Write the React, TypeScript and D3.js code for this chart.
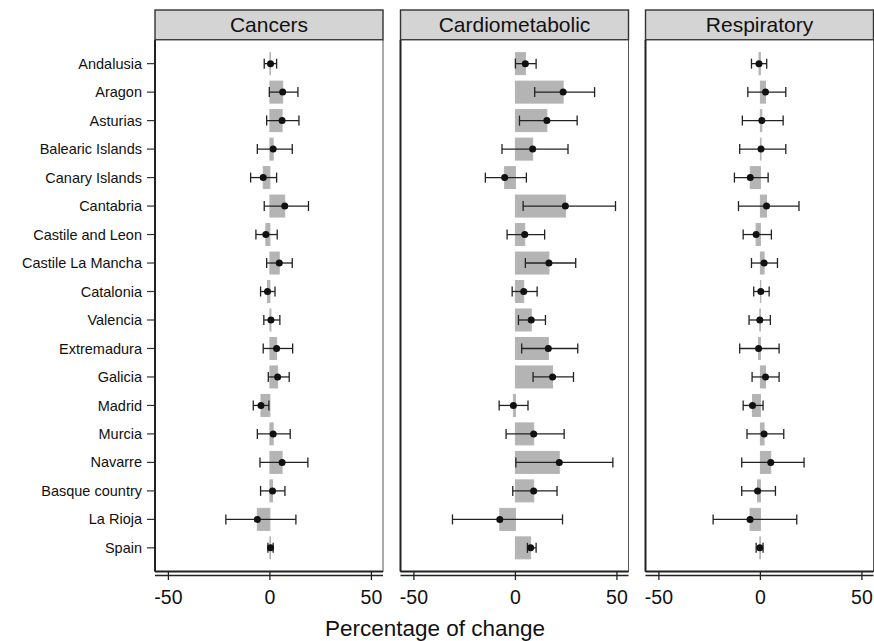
import React, { useEffect, useRef } from "react";
import * as d3 from "d3";

const regions = [
  "Andalusia",
  "Aragon",
  "Asturias",
  "Balearic Islands",
  "Canary Islands",
  "Cantabria",
  "Castile and Leon",
  "Castile La Mancha",
  "Catalonia",
  "Valencia",
  "Extremadura",
  "Galicia",
  "Madrid",
  "Murcia",
  "Navarre",
  "Basque country",
  "La Rioja",
  "Spain",
];

const panelTitles = ["Cancers", "Cardiometabolic", "Respiratory"];
const xTicks = [-50, 0, 50];

// estimate, lower and upper CI for each group
const cancersEst = [0.3, 6.3, 6, 1.6, -3.3, 7.3, -2, 4.6, -1.2, 0.5, 3.3, 3.8, -4.4, 1.6, 6, 1.3, -6.2, 0.3];
const cancersLo = [-2.8, -0.3, -1.6, -6.2, -9.5, -2.8, -6.9, -1.6, -4.6, -3, -3.3, -0.8, -8.2, -6.2, -4.9, -4.6, -21.7, -1];
const cancersHi = [3.3, 13.8, 14.3, 11, 3.3, 19, 3.6, 11, 2.5, 4.9, 11.2, 9.5, -0.5, 10, 18.7, 7.4, 12.8, 1.6];

const cardioEst = [4.9, 23.5, 15.5, 8.5, -5.3, 24.6, 4.6, 16.5, 4.1, 7.8, 16.2, 18.3, -1, 9, 21.6, 9, -7.7, 7.5];
const cardioLo = [0, 9.5, 2, -6.6, -14.8, 3.8, -4.1, 4.9, -1.6, 1.5, 3.1, 8.7, -8, -4.6, 0.2, -1.3, -31, 5.9];
const cardioHi = [10.2, 39, 30.4, 25.9, 5.4, 49.3, 14.4, 29.7, 10.7, 14.8, 30.7, 28.6, 6.2, 24, 48, 20.5, 23.2, 10.2];

const respEst = [-0.7, 2.5, 0.7, 0.3, -5, 3, -2.1, 1.8, 0.2, -0.3, -0.9, 2.5, -3.9, 1.8, 5.1, -1.4, -5.1, -0.3];
const respLo = [-4.4, -6.2, -8.9, -10.2, -12.8, -10.8, -8.5, -4.4, -3.3, -5.6, -10.2, -4.1, -8.5, -6.6, -9.2, -9.2, -23.3, -2.1];
const respHi = [3.1, 12.5, 11.2, 12.5, 3.8, 19, 5.4, 8.4, 4.3, 4.9, 9.2, 9.2, 1.3, 11.5, 21.5, 7.4, 17.9, 1.3];

const panelData = [
  [cancersEst, cancersLo, cancersHi],
  [cardioEst, cardioLo, cardioHi],
  [respEst, respLo, respHi],
];

const width = 874;
const height = 641;
const panelLefts = [155, 400.5, 645.5];
const panelWidth = 228;
const headerTop = 10;
const bodyTop = 40;
const bodyBottom = 571.5;
const font = "'Liberation Sans', Arial, sans-serif";

const App = () => {
  const ref = useRef<SVGSVGElement | null>(null);

  useEffect(() => {
    const svg = d3.select(ref.current);
    svg.selectAll("*").remove();

    const y = d3.scalePoint().domain(regions).range([bodyTop, bodyBottom]).padding(0.83);
    const barH = 22;

    // y labels
    const yAxis = svg.append("g").attr("font-family", font);
    regions.forEach((r) => {
      const yy = y(r) as number;
      yAxis
        .append("line")
        .attr("x1", 147)
        .attr("x2", 155)
        .attr("y1", yy)
        .attr("y2", yy)
        .attr("stroke", "#333")
        .attr("stroke-width", 1.2);
      yAxis
        .append("text")
        .attr("x", 142)
        .attr("y", yy)
        .attr("dy", "0.35em")
        .attr("text-anchor", "end")
        .attr("font-size", 14.5)
        .attr("fill", "#111")
        .text(r);
    });

    panelData.forEach(([est, lo, hi], p) => {
      const left = panelLefts[p];
      const x = d3.scaleLinear().domain([-56.6, 55.7]).range([left, left + panelWidth]);
      const g = svg.append("g");

      // header strip
      g.append("rect")
        .attr("x", left)
        .attr("y", headerTop)
        .attr("width", panelWidth)
        .attr("height", bodyTop - headerTop)
        .attr("fill", "#d4d4d4")
        .attr("stroke", "#333")
        .attr("stroke-width", 1.4);
      g.append("line")
        .attr("x1", left)
        .attr("x2", left + panelWidth)
        .attr("y1", bodyTop)
        .attr("y2", bodyTop)
        .attr("stroke", "#222")
        .attr("stroke-width", 2);
      g.append("text")
        .attr("x", left + panelWidth / 2)
        .attr("y", 32)
        .attr("text-anchor", "middle")
        .attr("font-family", font)
        .attr("font-size", 21)
        .attr("fill", "#111")
        .text(panelTitles[p]);

      // panel frame
      g.append("rect")
        .attr("x", left)
        .attr("y", bodyTop)
        .attr("width", panelWidth)
        .attr("height", bodyBottom - bodyTop)
        .attr("fill", "white")
        .attr("stroke", "#555")
        .attr("stroke-width", 1);
      g.append("line")
        .attr("x1", left)
        .attr("x2", left)
        .attr("y1", bodyTop)
        .attr("y2", bodyBottom)
        .attr("stroke", "#222")
        .attr("stroke-width", 2);
      g.append("line")
        .attr("x1", left)
        .attr("x2", left + panelWidth)
        .attr("y1", bodyBottom)
        .attr("y2", bodyBottom)
        .attr("stroke", "#222")
        .attr("stroke-width", 2);

      // bars
      regions.forEach((r, i) => {
        const yy = y(r) as number;
        const x0 = x(0);
        const x1 = x(est[i]);
        g.append("rect")
          .attr("x", Math.min(x0, x1))
          .attr("y", yy - barH / 2)
          .attr("width", Math.abs(x1 - x0))
          .attr("height", barH)
          .attr("fill", "#b4b4b4")
          .attr("stroke", "#b4b4b4")
          .attr("stroke-width", 1);
      });

      // error bars and points
      regions.forEach((r, i) => {
        const yy = y(r) as number;
        const eg = g.append("g").attr("stroke", "#222").attr("stroke-width", 1.3);
        eg.append("line").attr("x1", x(lo[i])).attr("x2", x(hi[i])).attr("y1", yy).attr("y2", yy);
        [lo[i], hi[i]].forEach((v) => {
          eg.append("line").attr("x1", x(v)).attr("x2", x(v)).attr("y1", yy - 5).attr("y2", yy + 5);
        });
        g.append("circle").attr("cx", x(est[i])).attr("cy", yy).attr("r", 3.5).attr("fill", "#111");
      });

      // x axis (double line)
      const ax = svg.append("g").attr("font-family", font);
      ax.append("line")
        .attr("x1", left)
        .attr("x2", left + panelWidth)
        .attr("y1", 575.5)
        .attr("y2", 575.5)
        .attr("stroke", "#222")
        .attr("stroke-width", 1.3);
      xTicks.forEach((t) => {
        ax.append("line")
          .attr("x1", x(t))
          .attr("x2", x(t))
          .attr("y1", 572)
          .attr("y2", 580)
          .attr("stroke", "#222")
          .attr("stroke-width", 1.3);
        ax.append("text")
          .attr("x", x(t))
          .attr("y", 604)
          .attr("text-anchor", "middle")
          .attr("font-size", 19.5)
          .attr("fill", "#111")
          .text(t);
      });
    });

    svg
      .append("text")
      .attr("x", 435)
      .attr("y", 636)
      .attr("text-anchor", "middle")
      .attr("font-family", font)
      .attr("font-size", 22.5)
      .attr("fill", "#111")
      .text("Percentage of change");
  }, []);

  return (
    <div style={{ position: "absolute", left: 0, top: 0 }}>
      <svg ref={ref} width={width} height={height} style={{ display: "block", background: "white" }} />
    </div>
  );
};

export default App;
